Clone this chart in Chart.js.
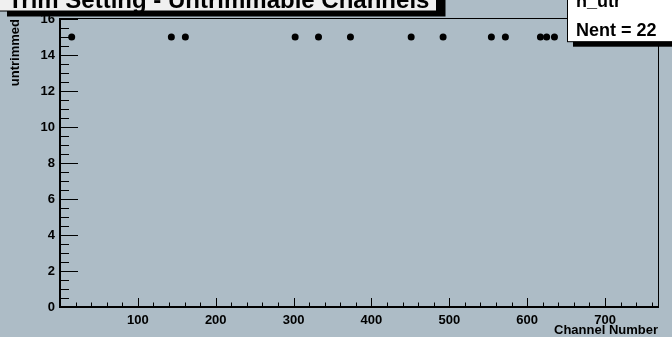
<!DOCTYPE html>
<html>
<head>
<meta charset="utf-8">
<title>h_utr</title>
<script src="https://cdn.jsdelivr.net/npm/chart.js@4.4.0/dist/chart.umd.min.js"></script>
<style>
  html, body { margin: 0; padding: 0; background: #adbcc6; }
  canvas { display: block; }
</style>
</head>
<body>
<canvas id="utrChart" width="672" height="337"></canvas>
<script>
// channels flagged as untrimmable, all sitting at trim setting 15
const channels = [15, 143, 161, 302, 332, 373, 451, 492, 554, 572, 617, 625, 635];
const untrimmed = [15, 15, 15, 15, 15, 15, 15, 15, 15, 15, 15, 15, 15];
const xTicks = [100, 200, 300, 400, 500, 600, 700];
const yTicks = [0, 2, 4, 6, 8, 10, 12, 14, 16];
const xRange = [0, 768];
const yRange = [0, 16];

const titleText = 'Trim Setting - Untrimmable Channels';
const statsLines = ['h_utr', 'Nent = 22'];

const padColor = '#adbcc6';
const fontFamily = '"Liberation Sans", Arial, Helvetica, sans-serif';

const points = channels.map((ch, i) => ({ x: ch, y: untrimmed[i] }));

// pad background
const padBackground = {
  id: 'padBackground',
  beforeDraw(chart) {
    const ctx = chart.ctx;
    ctx.save();
    ctx.fillStyle = padColor;
    ctx.fillRect(0, 0, chart.width, chart.height);
    ctx.restore();
  }
};

// ROOT style ticks pointing into the frame, plus the top/right frame lines
const frameTicks = {
  id: 'frameTicks',
  afterDatasetsDraw(chart) {
    const ctx = chart.ctx;
    const xs = chart.scales.x;
    const ys = chart.scales.y;
    const area = chart.chartArea;
    ctx.save();
    ctx.strokeStyle = '#000';
    ctx.lineWidth = 1;
    ctx.beginPath();
    for (let v = 0; v <= xRange[1]; v += 20) {
      const px = Math.round(xs.getPixelForValue(v)) + 0.5;
      const len = v % 100 === 0 ? 9 : 4.5;
      ctx.moveTo(px, area.bottom);
      ctx.lineTo(px, area.bottom - len);
    }
    for (let v = 0; v <= yRange[1]; v += 0.5) {
      const py = Math.round(ys.getPixelForValue(v)) + 0.5;
      const len = v % 2 === 0 ? 18 : 9;
      ctx.moveTo(area.left, py);
      ctx.lineTo(area.left + len, py);
    }
    ctx.stroke();

    ctx.beginPath();
    ctx.moveTo(area.left, Math.round(area.top) - 0.5);
    ctx.lineTo(area.right, Math.round(area.top) - 0.5);
    ctx.moveTo(Math.round(area.right) + 0.5, area.top);
    ctx.lineTo(Math.round(area.right) + 0.5, area.bottom);
    ctx.stroke();
    ctx.restore();
  }
};

// title pave and stats box drawn on top of everything
const paves = {
  id: 'paves',
  afterDraw(chart) {
    const ctx = chart.ctx;
    ctx.save();

    // title box
    ctx.fillStyle = '#000';
    ctx.fillRect(7, -25, 438.5, 41.5);
    ctx.fillStyle = '#f0f0f0';
    ctx.fillRect(-2, -30, 438.5, 41);
    ctx.strokeStyle = '#000';
    ctx.lineWidth = 1;
    ctx.strokeRect(-2, -30, 438.5, 41);
    ctx.fillStyle = '#000';
    ctx.font = 'bold 24px ' + fontFamily;
    ctx.textAlign = 'left';
    ctx.textBaseline = 'alphabetic';
    ctx.fillText(titleText, 8, 7.5);

    // stats box
    ctx.fillStyle = '#000';
    ctx.fillRect(573, -25, 120, 71.7);
    ctx.fillStyle = '#fff';
    ctx.fillRect(567.5, -30, 120, 71.7);
    ctx.strokeRect(567.5, -30, 120, 71.7);
    ctx.fillStyle = '#000';
    ctx.font = 'bold 18px ' + fontFamily;
    ctx.fillText(statsLines[0], 576, 7);
    ctx.fillText(statsLines[1], 576, 36);

    ctx.restore();
  }
};

const tickFont = { family: fontFamily, size: 13, weight: 'bold' };
const titleFont = { family: fontFamily, size: 13, weight: 'bold', lineHeight: 1 };

new Chart(document.getElementById('utrChart'), {
  type: 'scatter',
  data: {
    datasets: [{
      label: 'h_utr',
      data: points,
      pointRadius: 3.5,
      pointBackgroundColor: '#000',
      pointBorderColor: '#000',
      pointBorderWidth: 0
    }]
  },
  options: {
    responsive: false,
    animation: false,
    events: [],
    layout: { padding: { left: 0, right: 14, top: 19, bottom: 0 } },
    plugins: {
      legend: { display: false },
      tooltip: { enabled: false }
    },
    scales: {
      x: {
        type: 'linear',
        min: xRange[0],
        max: xRange[1],
        afterBuildTicks: (scale) => { scale.ticks = xTicks.map(v => ({ value: v })); },
        afterFit: (scale) => { scale.height = 30; },
        grid: { display: false, drawTicks: false },
        border: { display: true, color: '#000', width: 2 },
        ticks: { color: '#000', font: tickFont, padding: 6, maxRotation: 0 },
        title: {
          display: true,
          text: 'Channel Number',
          align: 'end',
          color: '#000',
          font: titleFont,
          padding: 0
        }
      },
      y: {
        type: 'linear',
        min: yRange[0],
        max: yRange[1],
        afterBuildTicks: (scale) => { scale.ticks = yTicks.map(v => ({ value: v })); },
        afterFit: (scale) => { scale.width = 60; },
        grid: { display: false, drawTicks: false },
        border: { display: true, color: '#000', width: 2 },
        ticks: { color: '#000', font: tickFont, padding: 5 },
        title: {
          display: true,
          text: 'untrimmed',
          align: 'end',
          color: '#000',
          font: titleFont,
          padding: { top: 9, bottom: 0 }
        }
      }
    }
  },
  plugins: [padBackground, frameTicks, paves]
});
</script>
</body>
</html>
